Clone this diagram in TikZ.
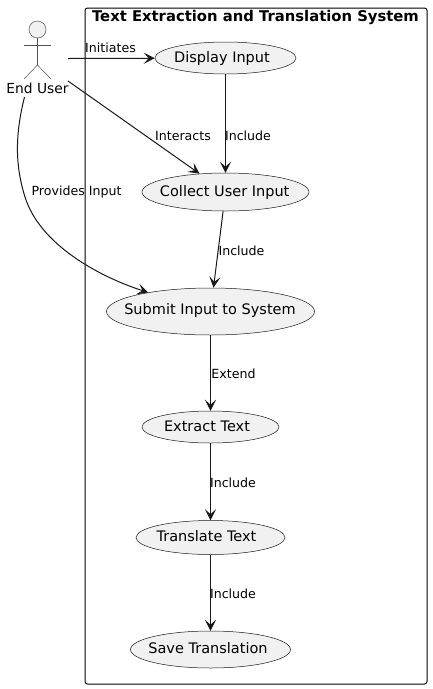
\documentclass[tikz,border=0pt]{standalone}
\usepackage{fontspec}
\setmainfont{DejaVu Sans}
\usetikzlibrary{shapes.geometric,arrows.meta}
\definecolor{ink}{HTML}{181818}
\definecolor{ucfill}{HTML}{F1F1F1}
\newcommand{\uctext}[3]{\makebox[0pt]{\hspace*{#1pt}\hspace*{#1pt}\raisebox{#2pt}[0pt][0pt]{#3}}}
\tikzset{
  uc/.style={ellipse,draw=ink,line width=0.5pt,fill=ucfill,inner sep=0pt,font=\fontsize{14.5}{16}\selectfont,text=black},
  lbl/.style={inner sep=0pt,font=\fontsize{12.6}{15}\selectfont,text=black},
  conn/.style={draw=ink,line width=1pt,-{Stealth[length=11pt,width=11pt,inset=5pt]}},
  stick/.style={draw=ink!75,line width=0.5pt}
}
\begin{document}
\begin{tikzpicture}[x=1pt,y=-1pt]
\useasboundingbox (0,0) rectangle (432,689);
\node[draw=black,line width=1pt,rounded corners=2.5pt,minimum width=342pt,minimum height=676pt,inner sep=0pt] (sys) at (256,346) {};
\node[inner sep=0pt,font=\bfseries\fontsize{14.8}{16}\selectfont] (title) at (255.5,17) {Text Extraction and Translation System};
% actor
\node[circle,draw=ink!75,line width=0.5pt,fill=ucfill,minimum size=17pt,inner sep=0pt] (head) at (37.5,29.5) {};
\coordinate (hip) at (37.5,65);
\draw[stick] (head.south) -- (hip);
\coordinate (armL) at (24,45); \coordinate (armR) at (51,45);
\draw[stick] (armL) -- (armR);
\coordinate (legL) at (24,79); \coordinate (legR) at (51,79);
\draw[stick] (legL) -- (hip) -- (legR);
\node[inner sep=0pt,font=\fontsize{13.8}{16}\selectfont] (user) at (37.5,88) {End User};
% use cases
\node[uc,minimum width=141pt,minimum height=32pt] (disp) at (225.5,58) {\uctext{-3.5}{-4.5}{Display Input}};
\node[uc,minimum width=167pt,minimum height=38pt] (coll) at (225.5,192) {\uctext{-0.8}{-4}{Collect User Input}};
\node[uc,minimum width=208pt,minimum height=47pt] (subm) at (210.5,311.5) {\uctext{-0.5}{-3}{Submit Input to System}};
\node[uc,minimum width=137pt,minimum height=32pt] (extr) at (210.5,427) {\uctext{-3.5}{-4.5}{Extract Text}};
\node[uc,minimum width=149pt,minimum height=34pt] (tran) at (210.5,537.5) {\uctext{-4}{-4}{Translate Text}};
\node[uc,minimum width=160pt,minimum height=37pt] (save) at (210.5,649.5) {\uctext{-2.5}{-3.5}{Save Translation}};
% connectors
\coordinate (s1) at (68,58.5);
\coordinate (s2) at (68,81);
\coordinate (s3) at (24.5,97);
\draw[conn] (s1) -- (disp);
\draw[conn] (s2) -- (coll);
\draw[conn] (s3) .. controls (15,135) and (15,165) .. (25,197) .. controls (40,245) and (100,277) .. (subm.163);
\draw[conn] (disp) -- (coll);
\draw[conn] (coll) -- (subm);
\draw[conn] (subm) -- (extr);
\draw[conn] (extr) -- (tran);
\draw[conn] (tran) -- (save);
% labels
\node[lbl] (l1) at (110.5,47.5) {Initiates};
\node[lbl] (l2) at (183,135.5) {Interacts};
\node[lbl] (l3) at (248,135.5) {Include};
\node[lbl] (l4) at (76.5,192.5) {Provides Input};
\node[lbl] (l5) at (241.5,250.5) {Include};
\node[lbl] (l6) at (233.5,373.5) {Extend};
\node[lbl] (l7) at (233,482.5) {Include};
\node[lbl] (l8) at (233,593.5) {Include};
\end{tikzpicture}
\end{document}
